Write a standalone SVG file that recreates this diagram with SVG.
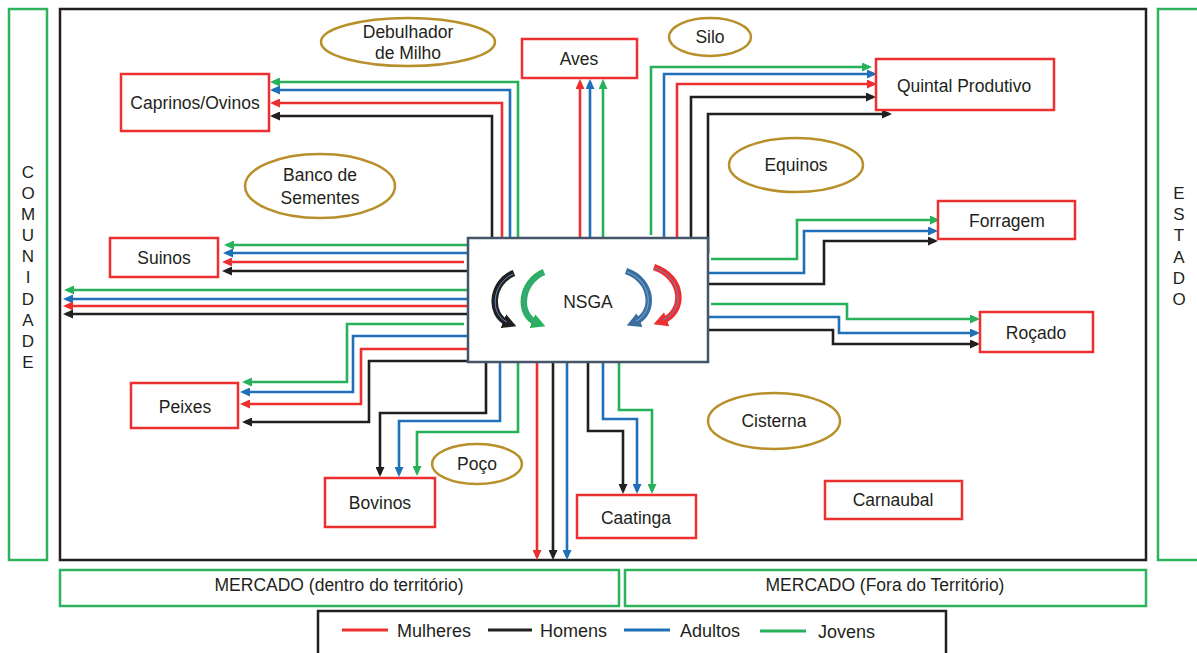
<svg xmlns="http://www.w3.org/2000/svg" width="1197" height="653" viewBox="0 0 1197 653">
  <style>
    text { font-family: "Liberation Sans", Arial, sans-serif; fill: #231f20; font-size: 17.5px; text-anchor: middle; }
    text.ls { text-anchor: start; font-size: 18px; }
    text.v { font-size: 17px; }
    .frame { fill: none; stroke: #231f20; stroke-width: 2.5; }
    .gframe { fill: #fff; stroke: #2fb25c; stroke-width: 2.5; }
    .box { fill: #fff; stroke: #ed2f2f; stroke-width: 2.5; }
    .ell { fill: #fff; stroke: #b8902a; stroke-width: 2.5; }
    .c { fill: none; stroke-width: 2.6; }
    .r { stroke: #ed2f2f; marker-end: url(#ar); }
    .k { stroke: #231f20; marker-end: url(#ak); }
    .b { stroke: #1f70b8; marker-end: url(#ab); }
    .g { stroke: #27b15a; marker-end: url(#ag); }
    .cyc { fill: none; stroke-width: 6.5; stroke-linecap: butt; }
  </style>
  <defs>
    <marker id="ar" markerUnits="userSpaceOnUse" markerWidth="10" markerHeight="9" refX="7" refY="4.5" orient="auto"><path d="M0,0 L10,4.5 L0,9 z" fill="#ed2f2f"/></marker>
    <marker id="ak" markerUnits="userSpaceOnUse" markerWidth="10" markerHeight="9" refX="7" refY="4.5" orient="auto"><path d="M0,0 L10,4.5 L0,9 z" fill="#231f20"/></marker>
    <marker id="ab" markerUnits="userSpaceOnUse" markerWidth="10" markerHeight="9" refX="7" refY="4.5" orient="auto"><path d="M0,0 L10,4.5 L0,9 z" fill="#1f70b8"/></marker>
    <marker id="ag" markerUnits="userSpaceOnUse" markerWidth="10" markerHeight="9" refX="7" refY="4.5" orient="auto"><path d="M0,0 L10,4.5 L0,9 z" fill="#27b15a"/></marker>
    <marker id="cr" markerUnits="userSpaceOnUse" markerWidth="15" markerHeight="15" refX="5" refY="7.5" orient="auto"><path d="M0,0 L14,7.5 L0,15 z" fill="#ed2f2f"/></marker>
    <marker id="ck" markerUnits="userSpaceOnUse" markerWidth="15" markerHeight="15" refX="5" refY="7.5" orient="auto"><path d="M0,0 L14,7.5 L0,15 z" fill="#231f20"/></marker>
    <marker id="cb" markerUnits="userSpaceOnUse" markerWidth="15" markerHeight="15" refX="5" refY="7.5" orient="auto"><path d="M0,0 L14,7.5 L0,15 z" fill="#3a6e9c"/></marker>
    <marker id="cg" markerUnits="userSpaceOnUse" markerWidth="15" markerHeight="15" refX="5" refY="7.5" orient="auto"><path d="M0,0 L14,7.5 L0,15 z" fill="#27b15a"/></marker>
  </defs>

  <rect width="1197" height="653" fill="#fff"/>

  <!-- outer areas -->
  <g id="comunidade">
    <rect class="gframe" x="9" y="9" width="38" height="551"/>
    <text class="v" x="28" y="178">C</text><text class="v" x="28" y="199">O</text><text class="v" x="28" y="220">M</text>
    <text class="v" x="28" y="241">U</text><text class="v" x="28" y="262">N</text><text class="v" x="28" y="283">I</text>
    <text class="v" x="28" y="305">D</text><text class="v" x="28" y="326">A</text><text class="v" x="28" y="347">D</text>
    <text class="v" x="28" y="368">E</text>
  </g>
  <g id="estado">
    <rect class="gframe" x="1158" y="9" width="45" height="551"/>
    <text class="v" x="1179" y="199">E</text><text class="v" x="1179" y="220">S</text><text class="v" x="1179" y="241">T</text>
    <text class="v" x="1179" y="263">A</text><text class="v" x="1179" y="284">D</text><text class="v" x="1179" y="305">O</text>
  </g>
  <rect id="territorio" class="frame" x="60" y="9" width="1086" height="551"/>
  <g id="mercado-dentro">
    <rect class="gframe" x="60" y="570" width="559" height="36"/>
    <text x="339" y="591">MERCADO (dentro do território)</text>
  </g>
  <g id="mercado-fora">
    <rect class="gframe" x="625" y="570" width="521" height="36"/>
    <text x="885" y="591">MERCADO (Fora do Território)</text>
  </g>

  <!-- ellipses -->
  <g id="debulhador"><ellipse class="ell" cx="408" cy="42" rx="87" ry="24"/><text x="408" y="38">Debulhador</text><text x="408" y="59">de Milho</text></g>
  <g id="silo"><ellipse class="ell" cx="710" cy="37" rx="41" ry="19"/><text x="710" y="43">Silo</text></g>
  <g id="banco"><ellipse class="ell" cx="320" cy="186" rx="75" ry="32"/><text x="320" y="181">Banco de</text><text x="320" y="204">Sementes</text></g>
  <g id="equinos"><ellipse class="ell" cx="796" cy="165" rx="67" ry="27"/><text x="796" y="171">Equinos</text></g>
  <g id="cisterna"><ellipse class="ell" cx="774" cy="421" rx="66" ry="28"/><text x="774" y="427">Cisterna</text></g>
  <g id="poco"><ellipse class="ell" cx="477" cy="464" rx="45" ry="20"/><text x="477" y="470">Poço</text></g>

  <!-- connectors -->
  <g id="connectors">
    <!-- Caprinos/Ovinos -->
    <path class="c k" d="M492 237 V116 H273"/>
    <path class="c r" d="M502 237 V103 H273"/>
    <path class="c b" d="M510 237 V90 H273"/>
    <path class="c g" d="M518 237 V82 H273"/>
    <!-- Aves -->
    <path class="c r" d="M580 237 V82"/>
    <path class="c b" d="M590 237 V82"/>
    <path class="c g" d="M603 237 V82"/>
    <!-- Quintal Produtivo -->
    <path class="c g" d="M651 235 V67 H869"/>
    <path class="c b" d="M664 237 V74 H874"/>
    <path class="c r" d="M677 237 V84 H874"/>
    <path class="c k" d="M691 237 V97 H873"/>
    <path class="c k" d="M708 253 V114 H889"/>
    <!-- Forragem -->
    <path class="c g" d="M711 259 H797 V220 H937"/>
    <path class="c b" d="M708 273 H804 V231 H935"/>
    <path class="c k" d="M708 284 H824 V241 H935"/>
    <!-- Roçado -->
    <path class="c g" d="M711 304 H847 V319 H977"/>
    <path class="c b" d="M708 317 H839 V333 H977"/>
    <path class="c k" d="M708 330 H833 V344 H977"/>
    <!-- Suinos -->
    <path class="c g" d="M468 245 H227"/>
    <path class="c b" d="M468 253 H226"/>
    <path class="c r" d="M464 262 H225"/>
    <path class="c k" d="M468 271 H225"/>
    <!-- Comunidade -->
    <path class="c g" d="M468 290 H67"/>
    <path class="c b" d="M468 299 H66"/>
    <path class="c r" d="M468 306 H66"/>
    <path class="c k" d="M468 314 H66"/>
    <!-- Peixes -->
    <path class="c g" d="M464 324 H347 V382 H245"/>
    <path class="c b" d="M468 336 H353 V392 H243"/>
    <path class="c r" d="M468 349 H361 V404 H243"/>
    <path class="c k" d="M468 361 H369 V422 H245"/>
    <!-- Bovinos -->
    <path class="c k" d="M486 362 V413 H380 V474"/>
    <path class="c b" d="M500 362 V421 H399 V474"/>
    <path class="c g" d="M518 362 V432 H417 V473"/>
    <!-- Mercado -->
    <path class="c r" d="M537 362 V557"/>
    <path class="c k" d="M553 362 V557"/>
    <path class="c b" d="M567 362 V557"/>
    <!-- Caatinga -->
    <path class="c k" d="M588 362 V431 H623 V491"/>
    <path class="c b" d="M603 362 V419 H637 V491"/>
    <path class="c g" d="M619 362 V410 H652 V491"/>
  </g>

  <!-- activity nodes -->
  <g id="caprinos"><rect class="box" x="121" y="74" width="148" height="57"/><text x="195" y="109">Caprinos/Ovinos</text></g>
  <g id="aves"><rect class="box" x="522" y="39" width="115" height="39"/><text x="579" y="65">Aves</text></g>
  <g id="quintal"><rect class="box" x="876" y="59" width="178" height="51"/><text x="964" y="92">Quintal Produtivo</text></g>
  <g id="forragem"><rect class="box" x="938" y="201" width="137" height="38"/><text x="1007" y="227">Forragem</text></g>
  <g id="rocado"><rect class="box" x="980" y="312" width="113" height="40"/><text x="1036" y="339">Roçado</text></g>
  <g id="suinos"><rect class="box" x="110" y="238" width="108" height="39"/><text x="164" y="264">Suinos</text></g>
  <g id="peixes"><rect class="box" x="131" y="383" width="107" height="45"/><text x="185" y="413">Peixes</text></g>
  <g id="bovinos"><rect class="box" x="325" y="478" width="110" height="49"/><text x="380" y="509">Bovinos</text></g>
  <g id="caatinga"><rect class="box" x="577" y="495" width="119" height="43"/><text x="636" y="524">Caatinga</text></g>
  <g id="carnaubal"><rect class="box" x="825" y="481" width="137" height="38"/><text x="893" y="506">Carnaubal</text></g>

  <!-- central node -->
  <g id="nsga">
    <rect x="468" y="238" width="240" height="124" fill="#fff" stroke="#44546a" stroke-width="2.5"/>
    <text x="588" y="308" font-size="21">NSGA</text>
    <path class="cyc" stroke="#231f20" marker-end="url(#ck)" d="M514 273 C491 282, 488 315, 508 323"/>
    <path class="cyc" stroke="#27b15a" marker-end="url(#cg)" d="M544 272 C520 282, 517 315, 537 323"/>
    <path class="cyc" stroke="#3a6e9c" marker-end="url(#cb)" d="M626 271 C653 280, 656 313, 635 322"/>
    <path class="cyc" stroke="#ed2f2f" marker-end="url(#cr)" d="M654 267 C684 277, 686 312, 662 321"/>
    <path fill="none" stroke="#5b8fc8" stroke-width="1" d="M513 274 C492 283, 489 314, 507 322"/>
    <path fill="none" stroke="#5b8fc8" stroke-width="1" d="M543 273 C521 283, 518 314, 536 322"/>
    <path fill="none" stroke="#6a9cd0" stroke-width="1.2" d="M627 272 C652 281, 655 312, 636 321"/>
    <path fill="none" stroke="#5b8fc8" stroke-width="1" d="M655 268 C683 278, 685 311, 663 320"/>
  </g>

  <!-- legend -->
  <g id="legend">
    <rect x="318" y="611" width="628" height="46" fill="#fff" stroke="#231f20" stroke-width="2.5"/>
    <line x1="342" y1="630" x2="388" y2="630" stroke="#ed2f2f" stroke-width="3"/>
    <text class="ls" x="397" y="637">Mulheres</text>
    <line x1="488" y1="630" x2="532" y2="630" stroke="#231f20" stroke-width="3"/>
    <text class="ls" x="540" y="637">Homens</text>
    <line x1="624" y1="630" x2="670" y2="630" stroke="#1f70b8" stroke-width="3"/>
    <text class="ls" x="680" y="637">Adultos</text>
    <line x1="760" y1="631" x2="806" y2="631" stroke="#27b15a" stroke-width="3"/>
    <text class="ls" x="818" y="638">Jovens</text>
  </g>
</svg>
